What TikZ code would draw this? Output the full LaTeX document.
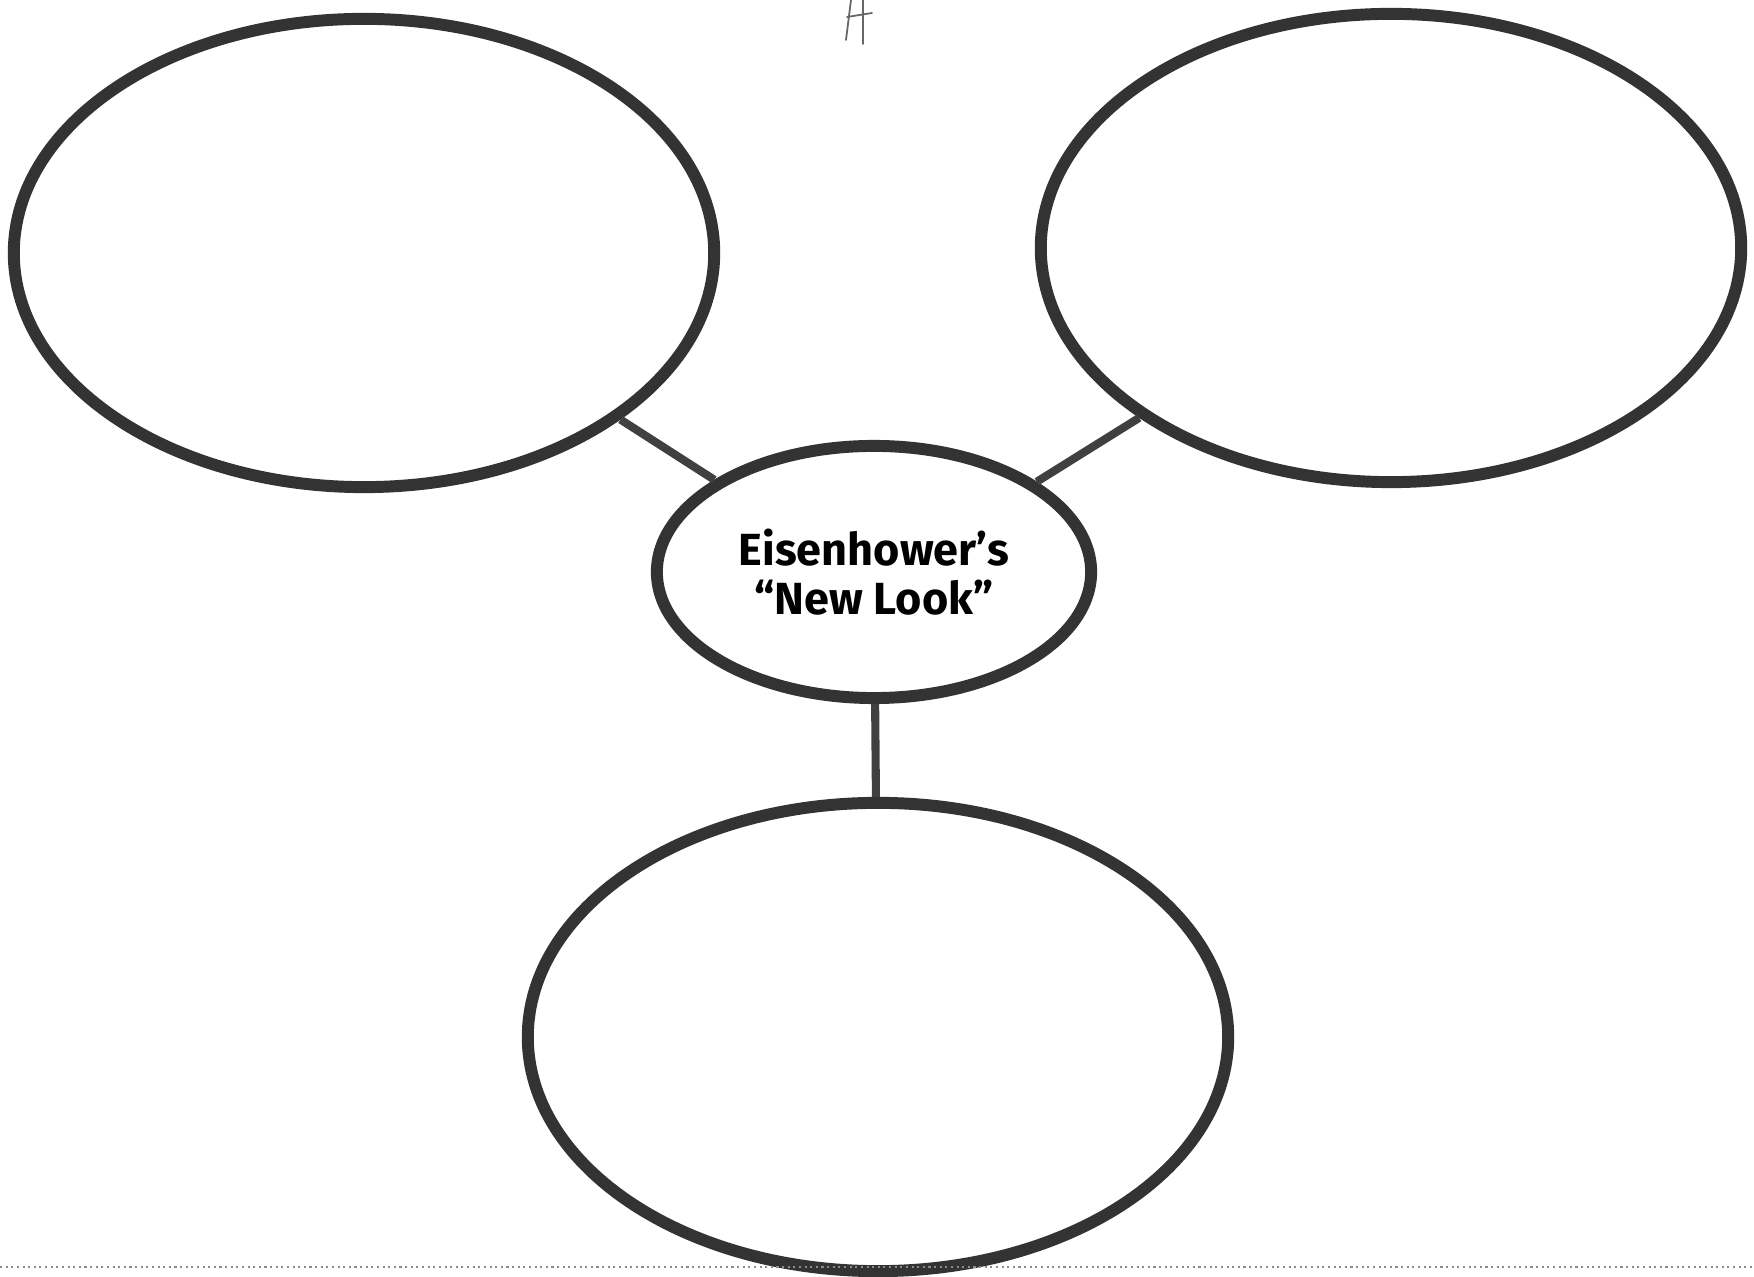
\documentclass[tikz,border=0pt]{standalone}
\usepackage{fontspec}
\newfontfamily\bubblefont{Fira Sans}
\usetikzlibrary{shapes.geometric}

\begin{document}
\begin{tikzpicture}[x=0.01cm, y=-0.01cm]
	\tikzset{
		bubble/.style={ellipse, draw=black!80, line width=3.4pt, minimum width=7cm, minimum height=4.68cm, inner sep=0pt},
		hub/.style={ellipse, draw=black!80, line width=3.4pt, minimum width=4.34cm, minimum height=2.52cm, inner sep=0pt, align=center, font=\bubblefont\bfseries\fontsize{12.8}{13.9}\selectfont},
		link/.style={draw=black!75, line width=2.3pt},
		pencil/.style={draw=black!60, line width=0.5pt, line cap=round},
		cutline/.style={draw=black!45, densely dotted, line width=0.6pt}
	}
	\useasboundingbox (0,0) rectangle (1754,1277);

	% Center
	\node[hub] (hub) at (874,572) {Eisenhower’s\\“New Look”};

	% Outer bubbles
	\node[bubble] (left) at (364,253) {};
	\node[bubble] (right) at (1391,248) {};
	\node[bubble] (bottom) at (878,1037) {};

	\draw[link] (left.-33)--(hub.150);
	\draw[link] (right.-146)--(hub.29);
	\draw[link] (hub)--(bottom);

	% Pencil mark and page edge
	\draw[pencil] (851,0)--(846,40);
	\draw[pencil] (847,17)--(872,13);
	\draw[pencil] (863,0)--(863,44);
	\coordinate (cutL) at (0,1267);
	\coordinate (cutR) at (1754,1267);
	\draw[cutline] (cutL)--(cutR);
\end{tikzpicture}
\end{document}
